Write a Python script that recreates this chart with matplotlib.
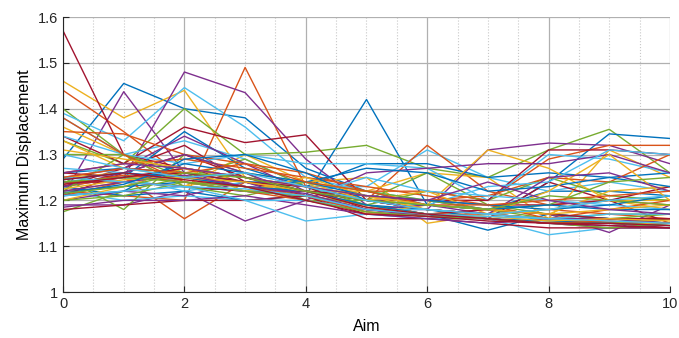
import matplotlib.pyplot as plt
import numpy as np

plt.rcParams['font.family'] = ['Liberation Sans', 'DejaVu Sans']

aims = list(range(11))

# one row per trial
blue_rows = [
    [1.29, 1.455, 1.40, 1.38, 1.27, 1.22, 1.19, 1.18, 1.17, 1.16, 1.15],
    [1.25, 1.24, 1.23, 1.22, 1.21, 1.42, 1.19, 1.18, 1.22, 1.22, 1.21],
    [1.22, 1.23, 1.24, 1.22, 1.21, 1.19, 1.18, 1.16, 1.24, 1.345, 1.335],
    [1.24, 1.25, 1.35, 1.27, 1.23, 1.28, 1.28, 1.25, 1.26, 1.25, 1.26],
    [1.23, 1.21, 1.22, 1.20, 1.21, 1.18, 1.17, 1.135, 1.17, 1.16, 1.15],
    [1.26, 1.27, 1.26, 1.24, 1.24, 1.27, 1.26, 1.22, 1.23, 1.25, 1.23],
    [1.21, 1.22, 1.29, 1.30, 1.26, 1.20, 1.19, 1.18, 1.19, 1.18, 1.18],
    [1.245, 1.26, 1.25, 1.23, 1.22, 1.19, 1.17, 1.16, 1.155, 1.15, 1.145],
    [1.215, 1.235, 1.28, 1.26, 1.24, 1.21, 1.20, 1.19, 1.18, 1.19, 1.21],
]
orange_rows = [
    [1.44, 1.35, 1.25, 1.23, 1.22, 1.19, 1.17, 1.17, 1.16, 1.15, 1.16],
    [1.22, 1.21, 1.20, 1.49, 1.23, 1.20, 1.18, 1.17, 1.18, 1.17, 1.16],
    [1.23, 1.25, 1.16, 1.24, 1.22, 1.20, 1.32, 1.22, 1.19, 1.20, 1.19],
    [1.35, 1.345, 1.30, 1.28, 1.26, 1.22, 1.22, 1.20, 1.29, 1.32, 1.32],
    [1.21, 1.24, 1.27, 1.25, 1.23, 1.21, 1.20, 1.21, 1.25, 1.24, 1.30],
    [1.26, 1.28, 1.29, 1.27, 1.25, 1.23, 1.21, 1.19, 1.16, 1.18, 1.20],
    [1.38, 1.30, 1.24, 1.22, 1.20, 1.18, 1.17, 1.16, 1.15, 1.16, 1.16],
    [1.235, 1.255, 1.24, 1.23, 1.21, 1.175, 1.165, 1.16, 1.15, 1.155, 1.15],
    [1.25, 1.27, 1.26, 1.28, 1.24, 1.22, 1.19, 1.19, 1.20, 1.21, 1.22],
]
yellow_rows = [
    [1.46, 1.38, 1.44, 1.25, 1.21, 1.19, 1.17, 1.16, 1.15, 1.15, 1.15],
    [1.36, 1.30, 1.23, 1.30, 1.24, 1.25, 1.15, 1.17, 1.18, 1.20, 1.20],
    [1.24, 1.25, 1.26, 1.24, 1.22, 1.22, 1.26, 1.25, 1.16, 1.31, 1.25],
    [1.22, 1.24, 1.23, 1.26, 1.24, 1.17, 1.19, 1.31, 1.27, 1.20, 1.18],
    [1.33, 1.27, 1.25, 1.23, 1.20, 1.18, 1.17, 1.18, 1.17, 1.22, 1.23],
    [1.25, 1.26, 1.24, 1.22, 1.24, 1.20, 1.22, 1.17, 1.22, 1.30, 1.20],
    [1.20, 1.23, 1.27, 1.22, 1.25, 1.21, 1.18, 1.17, 1.16, 1.15, 1.15],
    [1.225, 1.245, 1.25, 1.24, 1.22, 1.185, 1.17, 1.165, 1.155, 1.16, 1.155],
    [1.31, 1.29, 1.27, 1.25, 1.23, 1.21, 1.19, 1.18, 1.17, 1.18, 1.19],
]
purple_rows = [
    [1.21, 1.437, 1.26, 1.23, 1.22, 1.20, 1.18, 1.17, 1.16, 1.15, 1.15],
    [1.23, 1.25, 1.48, 1.435, 1.29, 1.19, 1.17, 1.16, 1.15, 1.14, 1.14],
    [1.19, 1.19, 1.22, 1.155, 1.20, 1.18, 1.18, 1.31, 1.325, 1.32, 1.28],
    [1.25, 1.27, 1.34, 1.28, 1.22, 1.20, 1.20, 1.18, 1.17, 1.13, 1.19],
    [1.20, 1.22, 1.21, 1.24, 1.20, 1.26, 1.27, 1.28, 1.28, 1.30, 1.26],
    [1.23, 1.26, 1.30, 1.26, 1.21, 1.18, 1.19, 1.17, 1.25, 1.26, 1.22],
    [1.185, 1.20, 1.20, 1.21, 1.19, 1.17, 1.16, 1.15, 1.16, 1.16, 1.15],
    [1.22, 1.24, 1.255, 1.23, 1.215, 1.18, 1.165, 1.16, 1.15, 1.145, 1.14],
    [1.26, 1.28, 1.27, 1.25, 1.23, 1.21, 1.20, 1.24, 1.20, 1.18, 1.17],
]
green_rows = [
    [1.40, 1.30, 1.25, 1.24, 1.23, 1.20, 1.18, 1.17, 1.16, 1.17, 1.17],
    [1.33, 1.28, 1.40, 1.30, 1.305, 1.32, 1.27, 1.25, 1.31, 1.355, 1.26],
    [1.175, 1.22, 1.25, 1.29, 1.23, 1.19, 1.22, 1.20, 1.25, 1.21, 1.20],
    [1.25, 1.18, 1.30, 1.26, 1.20, 1.20, 1.26, 1.19, 1.17, 1.16, 1.17],
    [1.30, 1.30, 1.26, 1.25, 1.22, 1.21, 1.19, 1.18, 1.16, 1.15, 1.16],
    [1.22, 1.30, 1.23, 1.21, 1.24, 1.22, 1.20, 1.18, 1.19, 1.24, 1.25],
    [1.20, 1.21, 1.24, 1.22, 1.21, 1.19, 1.17, 1.16, 1.15, 1.14, 1.15],
    [1.24, 1.25, 1.24, 1.23, 1.20, 1.175, 1.165, 1.16, 1.15, 1.15, 1.145],
    [1.215, 1.23, 1.26, 1.25, 1.22, 1.20, 1.19, 1.18, 1.21, 1.20, 1.19],
]
lightblue_rows = [
    [1.39, 1.33, 1.446, 1.36, 1.25, 1.22, 1.20, 1.18, 1.17, 1.16, 1.16],
    [1.38, 1.30, 1.33, 1.29, 1.23, 1.23, 1.31, 1.25, 1.22, 1.24, 1.22],
    [1.22, 1.20, 1.21, 1.20, 1.155, 1.17, 1.16, 1.16, 1.125, 1.14, 1.14],
    [1.34, 1.30, 1.28, 1.30, 1.28, 1.28, 1.27, 1.20, 1.30, 1.29, 1.26],
    [1.24, 1.25, 1.22, 1.24, 1.23, 1.20, 1.19, 1.23, 1.24, 1.31, 1.30],
    [1.27, 1.26, 1.24, 1.22, 1.21, 1.25, 1.22, 1.21, 1.20, 1.19, 1.18],
    [1.21, 1.22, 1.23, 1.20, 1.20, 1.18, 1.18, 1.17, 1.16, 1.17, 1.17],
    [1.25, 1.24, 1.23, 1.225, 1.21, 1.18, 1.17, 1.165, 1.16, 1.155, 1.15],
    [1.30, 1.27, 1.25, 1.26, 1.23, 1.20, 1.18, 1.17, 1.18, 1.20, 1.21],
]
darkred_rows = [
    [1.57, 1.30, 1.27, 1.24, 1.22, 1.20, 1.18, 1.17, 1.16, 1.15, 1.15],
    [1.34, 1.28, 1.36, 1.326, 1.343, 1.20, 1.18, 1.17, 1.16, 1.15, 1.14],
    [1.23, 1.27, 1.32, 1.24, 1.21, 1.17, 1.17, 1.16, 1.24, 1.20, 1.15],
    [1.21, 1.26, 1.30, 1.25, 1.22, 1.20, 1.20, 1.20, 1.31, 1.31, 1.30],
    [1.24, 1.24, 1.23, 1.22, 1.22, 1.21, 1.20, 1.19, 1.19, 1.20, 1.23],
    [1.18, 1.19, 1.20, 1.20, 1.21, 1.16, 1.16, 1.15, 1.14, 1.14, 1.14],
    [1.26, 1.25, 1.26, 1.24, 1.23, 1.18, 1.17, 1.18, 1.17, 1.16, 1.16],
    [1.235, 1.25, 1.27, 1.25, 1.22, 1.185, 1.17, 1.16, 1.15, 1.15, 1.145],
    [1.245, 1.26, 1.245, 1.23, 1.20, 1.17, 1.165, 1.155, 1.15, 1.145, 1.14],
]

# matlab default colour order
colors = ['#0072BD', '#D95319', '#EDB120', '#7E2F8E', '#77AC30', '#4DBEEE', '#A2142F']
groups = [blue_rows, orange_rows, yellow_rows, purple_rows, green_rows, lightblue_rows, darkred_rows]

fig = plt.figure(figsize=(6.79, 3.38), dpi=100)
ax = fig.add_axes([0.0928, 0.136, 0.8939, 0.8137])

# interleave so colours cycle like matlab's hold on
for i in range(len(blue_rows)):
    for c, g in zip(colors, groups):
        ax.plot(aims, g[i], color=c, lw=1.0)

ax.set_xlim(0, 10)
ax.set_ylim(1, 1.6)
ax.set_xticks(range(0, 11, 2))
ax.set_xticks(np.arange(0.5, 10, 0.5), minor=True)
ax.set_yticks(np.arange(1.0, 1.61, 0.1))
ax.set_yticklabels(['1', '1.1', '1.2', '1.3', '1.4', '1.5', '1.6'])
ax.grid(True, which='major', color='#b0b0b0', lw=0.9)
ax.grid(True, which='minor', axis='x', color='#c8c8c8', lw=0.8, ls=':')
ax.set_axisbelow(True)
ax.tick_params(direction='in', length=4, labelsize=10.5, colors='#262626', which='major')
ax.tick_params(which='minor', length=0)
for s in ['top', 'right']:
    ax.spines[s].set_visible(False)
for s in ['left', 'bottom']:
    ax.spines[s].set_color('#262626')

ax.set_xlabel('Aim', fontsize=11.5, labelpad=6)
ax.set_ylabel('Maximum Displacement', fontsize=11.5)

fig.savefig('out.png', dpi=100)
